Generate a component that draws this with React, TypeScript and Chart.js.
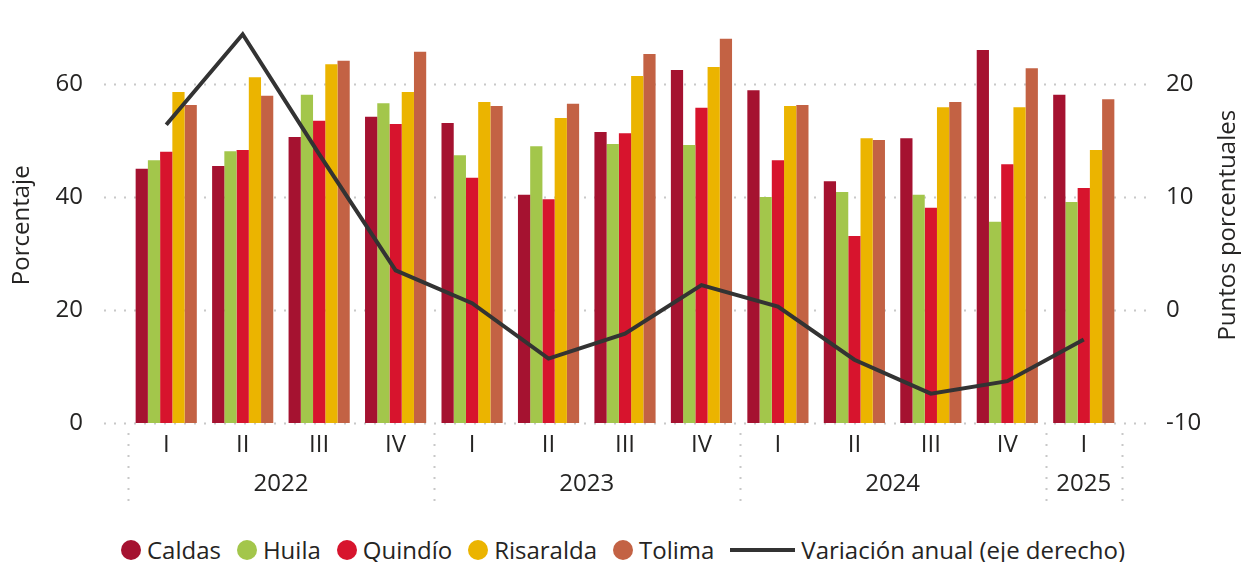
import React, { useEffect, useRef } from "react";
import { Chart, registerables } from "chart.js";

Chart.register(...registerables);

const quarters = ["I", "II", "III", "IV", "I", "II", "III", "IV", "I", "II", "III", "IV", "I"];
const years = ["2022", "2022", "2022", "2022", "2023", "2023", "2023", "2023", "2024", "2024", "2024", "2024", "2025"];

const caldas = [45.0, 45.5, 50.6, 54.2, 53.1, 40.4, 51.5, 62.5, 58.9, 42.8, 50.4, 66.0, 58.1];
const huila = [46.5, 48.1, 58.1, 56.6, 47.4, 49.0, 49.4, 49.2, 40.0, 40.9, 40.4, 35.6, 39.1];
const quindio = [48.0, 48.3, 53.5, 52.9, 43.4, 39.6, 51.3, 55.8, 46.5, 33.1, 38.1, 45.8, 41.6];
const risaralda = [58.6, 61.2, 63.5, 58.6, 56.8, 54.0, 61.4, 63.0, 56.1, 50.4, 55.9, 55.9, 48.3];
const tolima = [56.3, 57.9, 64.1, 65.7, 56.1, 56.5, 65.3, 68.0, 56.3, 50.1, 56.8, 62.8, 57.3];
const variacion = [16.4, 24.4, 13.8, 3.5, 0.6, -4.3, -2.1, 2.2, 0.3, -4.4, -7.4, -6.3, -2.6];

const barNames = ["Caldas", "Huila", "Quindío", "Risaralda", "Tolima"];
const barColors = ["#A51230", "#A3C64B", "#D7142D", "#EBB400", "#C36244"];
const lineName = "Variación anual (eje derecho)";
const rightTitle = "Puntos porcentuales";
const lineColor = "#333333";
const textColor = "#252423";
const FONT = "'Open Sans', sans-serif";

const gridPlugin = {
  id: "customGrid",
  beforeDatasetsDraw(chart: any) {
    const { ctx, chartArea, scales } = chart;
    const y = scales.y;
    ctx.save();
    ctx.strokeStyle = "#c8c8c8";
    ctx.lineWidth = 2;
    ctx.setLineDash([2, 8]);
    y.ticks.forEach((t: any) => {
      const py = Math.round(y.getPixelForValue(t.value)) + 0.5;
      ctx.beginPath();
      ctx.moveTo(chartArea.left - 24, py);
      ctx.lineTo(chartArea.right + 25, py);
      ctx.stroke();
    });
    ctx.restore();
  },
  afterDraw(chart: any) {
    const { ctx, chartArea, scales } = chart;
    const x = scales.x;
    const n = quarters.length;
    const w = (x.right - x.left) / n;
    const groups: { label: string; start: number; end: number }[] = [];
    years.forEach((yr, i) => {
      const g = groups[groups.length - 1];
      if (g && g.label === yr) g.end = i;
      else groups.push({ label: yr, start: i, end: i });
    });
    ctx.save();
    ctx.strokeStyle = "#c8c8c8";
    ctx.lineWidth = 2;
    ctx.setLineDash([2, 9]);
    const top = chartArea.bottom + 10;
    const bottom = chartArea.bottom + 82;
    const bounds: number[] = [];
    groups.forEach((g) => {
      bounds.push(x.getPixelForValue(g.start) - w / 2);
    });
    bounds.push(x.getPixelForValue(groups[groups.length - 1].end) + w / 2);
    bounds.forEach((bx) => {
      const px = Math.round(bx) + 0.5;
      ctx.beginPath();
      ctx.moveTo(px, top);
      ctx.lineTo(px, bottom);
      ctx.stroke();
    });
    ctx.setLineDash([]);
    ctx.fillStyle = textColor;
    ctx.font = `24px ${FONT}`;
    ctx.textAlign = "center";
    ctx.textBaseline = "middle";
    groups.forEach((g) => {
      const cx = (x.getPixelForValue(g.start) + x.getPixelForValue(g.end)) / 2;
      ctx.fillText(g.label, cx, chartArea.bottom + 61);
    });
    // right axis title, reading bottom-to-top
    const y1 = scales.y1;
    ctx.translate(y1.right - 18, (chartArea.top + chartArea.bottom) / 2);
    ctx.rotate(-Math.PI / 2);
    ctx.fillText(rightTitle, 0, 0);
    ctx.restore();
  },
};

export default function App() {
  const ref = useRef<HTMLCanvasElement>(null);

  useEffect(() => {
    if (!ref.current) return;
    const barData = [caldas, huila, quindio, risaralda, tolima];
    const datasets: any[] = barData.map((d, i) => ({
      type: "bar",
      label: barNames[i],
      data: d,
      backgroundColor: barColors[i],
      yAxisID: "y",
      categoryPercentage: 0.8,
      barPercentage: 1.0,
      order: 2,
    }));
    datasets.push({
      type: "line",
      label: lineName,
      data: variacion,
      borderColor: lineColor,
      backgroundColor: lineColor,
      borderWidth: 4,
      pointRadius: 0,
      tension: 0,
      yAxisID: "y1",
      order: 0,
    });
    const chart = new Chart(ref.current, {
      type: "bar",
      data: { labels: quarters, datasets },
      options: {
        animation: false,
        responsive: true,
        maintainAspectRatio: false,
        layout: { padding: { top: 27.5, left: 0, right: 0, bottom: 0 } },
        plugins: { legend: { display: false }, tooltip: { enabled: false } },
        scales: {
          x: {
            grid: { display: false, drawTicks: false },
            border: { display: false },
            ticks: {
              color: textColor,
              font: { family: FONT, size: 24 },
              padding: 8,
              maxRotation: 0,
              autoSkip: false,
            },
            afterFit: (s: any) => {
              s.height = 97;
              s.paddingLeft = 0;
              s.paddingRight = 0;
            },
          },
          y: {
            position: "left",
            min: 0,
            max: 70,
            grid: { display: false, drawTicks: false },
            border: { display: false },
            ticks: {
              stepSize: 20,
              color: textColor,
              font: { family: FONT, size: 24 },
              padding: 45,
            },
            afterBuildTicks: (s: any) => {
              s.ticks = s.ticks.filter((t: any) => t.value % 20 === 0);
            },
            title: {
              display: true,
              text: "Porcentaje",
              color: textColor,
              font: { family: FONT, size: 24, lineHeight: 1.2 },
              padding: { top: 8, bottom: 0 },
            },
            afterFit: (s: any) => {
              s.width = 128;
              s.paddingTop = 0;
              s.paddingBottom = 0;
            },
          },
          y1: {
            position: "right",
            min: -10,
            max: 25,
            grid: { display: false, drawTicks: false },
            border: { display: false },
            ticks: {
              stepSize: 10,
              color: textColor,
              font: { family: FONT, size: 24 },
              padding: 44,
            },
            afterBuildTicks: (s: any) => {
              s.ticks = s.ticks.filter((t: any) => t.value % 10 === 0 && t.value <= 20);
            },
            title: { display: false },
            afterFit: (s: any) => {
              s.width = 124;
              s.paddingTop = 0;
              s.paddingBottom = 0;
            },
          },
        },
      } as any,
      plugins: [gridPlugin],
    });
    return () => chart.destroy();
  }, []);

  return (
    <div style={{ position: "absolute", left: 0, top: 0, width: 1246, height: 562, background: "#fff" }}>
      <div style={{ position: "absolute", left: 0, top: 0, width: 1246, height: 520 }}>
        <canvas ref={ref} />
      </div>
      <div
        style={{
          position: "absolute",
          left: 0,
          top: 536,
          width: 1246,
          height: 28,
          display: "flex",
          justifyContent: "center",
          alignItems: "center",
          fontFamily: FONT,
          fontSize: 24,
          lineHeight: "28px",
          color: textColor,
          whiteSpace: "nowrap",
        }}
      >
        {barNames.map((name, i) => (
          <span key={name} style={{ display: "flex", alignItems: "center", marginRight: 16 }}>
            <span
              style={{
                display: "inline-block",
                width: 20,
                height: 20,
                borderRadius: "50%",
                background: barColors[i],
                marginRight: 6,
              }}
            />
            <span>{name}</span>
          </span>
        ))}
        <span style={{ display: "flex", alignItems: "center" }}>
          <span
            style={{
              display: "inline-block",
              width: 65,
              height: 4,
              background: lineColor,
              marginRight: 6,
            }}
          />
          <span>{lineName}</span>
        </span>
      </div>
    </div>
  );
}
